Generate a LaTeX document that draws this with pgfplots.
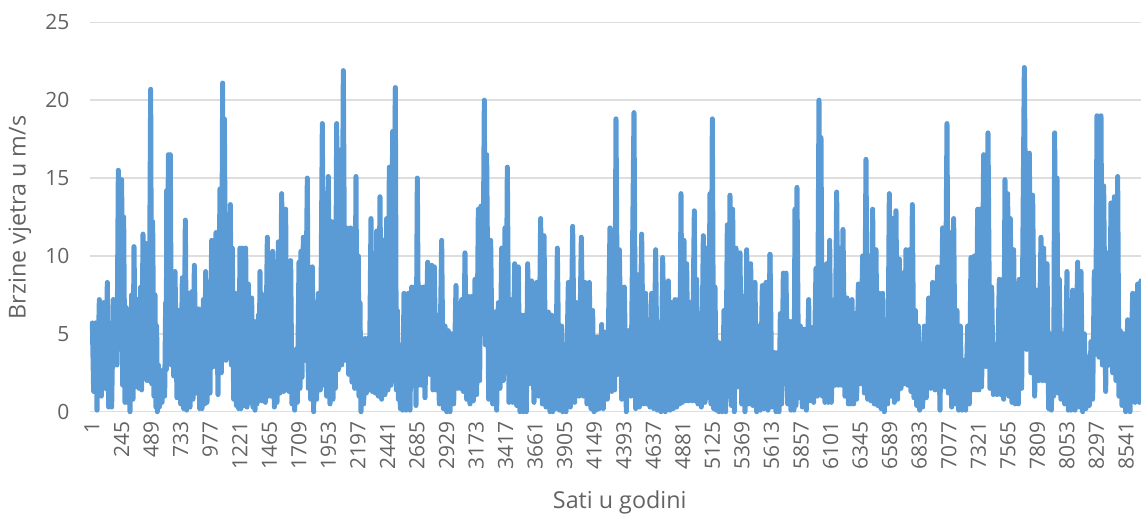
\documentclass[border=0pt]{standalone}
\usepackage{pgfplots}
\usepackage{pgfplotstable}
\pgfplotsset{compat=1.18}
\usepackage{fontspec}
\setmainfont{Open Sans}
\definecolor{wind}{HTML}{5B9BD5}
\definecolor{txt}{HTML}{636363}
\definecolor{gridc}{HTML}{DEDEDE}
\pgfplotstableread[row sep=\\,header=false]{
277 5.7\\281 1.3\\287 5.7\\291 .1\\298 7.2\\304 1\\310 7\\316 1.5\\322 8.3\\326 .3\\330 5.5\\335 .3\\340 7.2\\345 3\\348 7.2\\351 3\\355 15.5\\360 4.5\\365 14.9\\368 1.7\\371 12.5\\375 .6\\378 6.7\\382 .6\\385 6.1\\390 0\\395 7.5\\399 .8\\402 10.6\\407 1.6\\412 7.2\\417 1.5\\422 8\\425 1.4\\429 11.4\\434 3.5\\438 10.8\\441 2\\443 9.5\\447 2\\452 20.7\\455 1.8\\458 12.2\\462 1\\465 7.5\\468 .3\\470 5.5\\472 0\\475 3\\478 .3\\482 2\\486 .6\\490 2.7\\494 1\\497 7\\499 2.7\\500 14.2\\503 3.7\\505 16.5\\508 3.7\\511 16.5\\514 3\\517 8\\521 2.3\\525 9\\531 .9\\537 6.5\\542 .5\\547 8.6\\551 .2\\556 12.3\\560 .1\\565 7.6\\570 .3\\575 7.7\\579 .8\\583 9.4\\589 1.2\\595 6.6\\599 .2\\603 4.8\\606 .2\\610 7.2\\614 .5\\617 9\\621 .6\\625 6.9\\630 1.2\\635 11\\641 2.9\\648 11.5\\654 1.1\\660 14.3\\664 2.5\\668 21.1\\670 4\\673 18.8\\678 3.3\\682 12.4\\687 5\\691 13.3\\694 3\\697 10.5\\701 .8\\706 7.6\\709 .4\\712 7\\716 .2\\720 10.5\\723 .2\\727 10.5\\732 .4\\737 10.5\\741 .3\\745 8.2\\750 .6\\755 7.3\\759 .3\\762 5.8\\765 .1\\768 4.8\\771 .5\\775 6.2\\777 .8\\780 9\\785 .7\\790 7.5\\796 .6\\802 11.2\\805 1\\808 8\\813 1\\818 10.3\\823 .3\\828 8.6\\831 .6\\835 10.9\\840 1.2\\845 14\\851 1.3\\857 13\\860 1.4\\863 9\\867 1.3\\872 9.7\\876 .5\\880 2.8\\884 .1\\888 4\\892 .6\\897 9.6\\900 1.5\\903 10.3\\906 2.2\\910 11.2\\916 3.3\\922 15\\925 1.5\\928 8\\932 .8\\937 9.3\\941 0\\945 7\\950 .8\\955 7.6\\961 1.4\\967 18.5\\971 1.7\\975 14\\980 1\\985 15.1\\990 .5\\995 12.2\\999 .8\\1003 11\\1006 1.5\\1010 18.5\\1015 2.7\\1020 16.8\\1025 3\\1030 21.9\\1035 3.3\\1040 11.8\\1046 2.4\\1052 11.8\\1056 1.9\\1060 11\\1064 1.5\\1068 15.1\\1071 1.8\\1075 10\\1077 1\\1080 7\\1083 0\\1087 4\\1091 .5\\1095 4.7\\1099 1.2\\1103 4.7\\1108 1.4\\1113 12.4\\1117 1.3\\1122 9.5\\1126 1.2\\1130 11.6\\1135 1\\1140 13.8\\1145 .8\\1150 11\\1155 1.1\\1160 12.4\\1164 1.4\\1168 15.7\\1173 1.7\\1178 18\\1182 2\\1186 20.8\\
}\segA
\pgfplotstableread[row sep=\\,header=false]{
46 20.8\\49 1.4\\52 6.5\\55 .8\\58 4.3\\61 .2\\65 2.9\\68 .1\\72 7.6\\78 .1\\85 7.6\\90 .1\\95 8\\100 2\\103 8\\108 .4\\112 15\\116 1.7\\120 8\\125 1.7\\130 8\\135 .9\\143 9.6\\149 2.4\\155 9.4\\159 1.4\\163 9.3\\168 1.4\\172 6.2\\178 .5\\185 11\\190 .2\\195 5.5\\200 0\\205 5.2\\210 0\\215 5\\221 .5\\228 8.1\\233 1.5\\238 6.5\\241 1.5\\245 7.2\\250 1.3\\255 10.2\\260 .8\\265 7.4\\270 .5\\275 7.4\\280 .7\\285 8.5\\290 1.1\\295 13\\299 2\\303 13.2\\308 5\\313 20\\316 4.3\\320 16.5\\326 .8\\332 11\\338 .5\\345 6.4\\350 .1\\355 7\\360 1.5\\365 10.5\\370 2\\375 11.8\\378 2.5\\382 15.7\\387 .6\\392 7.2\\398 .6\\404 9.5\\410 .4\\415 9.3\\420 0\\425 6.2\\430 0\\435 6.2\\439 0\\443 9.5\\449 1.8\\455 8.4\\462 .6\\470 8.3\\476 1\\482 12.4\\487 .5\\492 11.3\\498 .3\\505 6.4\\510 0\\515 6.2\\518 0\\522 6\\527 .2\\532 10.5\\538 .1\\545 5.5\\548 0\\552 4\\558 0\\565 8.3\\571 .3\\578 11.9\\584 .6\\590 7\\597 1\\604 11.2\\610 1\\615 8.3\\621 .5\\628 8.3\\633 .2\\638 6.5\\642 0\\645 4.2\\648 .1\\652 4.8\\658 .2\\665 5.6\\670 .2\\675 5.1\\682 .8\\690 11.8\\695 1.3\\700 10.2\\704 1.4\\708 18.8\\713 2.4\\718 10.4\\725 .8\\733 8\\739 0\\745 5.2\\753 1\\762 19.2\\767 .2\\772 8.8\\778 .3\\785 11.4\\791 .5\\797 7.6\\801 .5\\805 5.9\\810 .3\\815 7.6\\821 .2\\827 10.4\\832 .1\\838 5.7\\843 0\\848 9.9\\856 0\\865 8.4\\870 .1\\875 7\\880 .2\\885 7.2\\890 .3\\895 7.2\\899 .5\\903 14\\907 .6\\912 11\\916 .7\\920 9.5\\925 .7\\930 7\\936 .7\\943 12.9\\946 .7\\950 8.5\\954 .5\\958 5.8\\964 .3\\970 11.3\\975 .6\\980 10.5\\985 .9\\990 14\\993 .5\\997 18.8\\1001 .2\\1005 8\\1009 .1\\1012 4.5\\1017 0\\1022 4.4\\1027 0\\1032 6.5\\1037 0\\1042 12\\1046 1\\1050 13.9\\1054 .4\\1058 13\\1063 0\\1068 10.5\\1074 1.6\\1080 10.2\\1085 .5\\1090 7.4\\1095 0\\1100 10.4\\1106 .5\\1112 9.5\\1118 .4\\1125 8.3\\1130 0\\1135 5.5\\1141 .1\\1147 8.1\\1152 .2\\1158 8.3\\1164 .1\\1170 10.1\\
}\segB
\pgfplotstableread[row sep=\\,header=false]{
87 10.1\\93 .3\\100 3.8\\105 0\\110 3.8\\114 0\\118 6.3\\122 .5\\127 8.9\\131 1.8\\135 8.9\\140 .5\\145 5.8\\150 .1\\155 5.8\\159 .1\\162 13\\165 .4\\168 14.4\\173 .9\\178 5.5\\184 .3\\190 5.3\\196 .1\\203 7.2\\207 .7\\212 5.4\\218 .6\\225 9.2\\229 1\\234 20\\237 2.3\\240 17.6\\244 1\\247 5.6\\252 .6\\257 9.5\\262 .6\\266 11\\271 .6\\277 4.8\\282 1.7\\287 14.1\\292 1.7\\297 10.5\\302 1.7\\306 11.7\\312 1\\318 7.3\\322 .5\\325 5.5\\329 .5\\333 7.2\\338 .5\\342 6.3\\347 .8\\352 8.2\\358 1.8\\365 10\\370 1.2\\375 16.2\\380 .8\\385 10\\390 .7\\395 13\\400 .5\\405 10.4\\410 .4\\415 7.6\\420 .2\\425 7.6\\430 0\\435 5.8\\440 .5\\445 14\\450 1\\455 12.4\\460 .6\\465 12.9\\470 .8\\475 9.8\\480 1.5\\485 8.9\\490 1.8\\495 10.4\\500 1.7\\505 10.4\\510 1.3\\514 13.3\\519 .9\\523 6.5\\527 .4\\532 5.5\\536 .1\\540 4.2\\545 .3\\550 5.5\\556 .9\\563 7.3\\569 1.5\\575 8.3\\582 1.4\\590 9.3\\597 .1\\605 11.8\\612 1.6\\618 18.5\\622 1.2\\627 11.5\\632 .3\\638 12.4\\643 .5\\648 6.5\\653 .1\\658 5.5\\663 .1\\668 3.3\\674 .1\\680 5.5\\685 .5\\690 9.9\\695 1.4\\700 10\\705 1.4\\710 13\\714 1.4\\717 13\\722 1.6\\728 16.5\\735 2.9\\741 17.9\\747 1.5\\752 8\\757 1.1\\762 4.3\\768 1.1\\775 8.5\\780 1.1\\785 8.5\\788 .8\\792 14.9\\796 1.5\\800 14\\804 1\\808 12.4\\813 .6\\818 10.4\\823 .5\\828 5.5\\832 .5\\835 8.5\\842 1.5\\850 22.1\\857 4\\865 16.6\\870 2.5\\875 13.9\\881 1\\887 7.8\\893 2\\900 11.2\\904 2\\908 10.5\\913 2\\918 9.5\\923 .2\\928 5\\931 .1\\935 3.5\\938 1\\941 17.9\\945 1.5\\948 15\\951 1.2\\955 8.5\\960 .8\\965 5\\971 .5\\978 9\\982 .1\\985 7\\990 .1\\995 7.8\\1002 .1\\1010 9.6\\1015 .3\\1020 9\\1025 0\\1030 5\\1035 .2\\1040 3.5\\1045 .4\\1050 4.5\\1055 .8\\1060 9\\1064 3.7\\1068 19\\1074 3.5\\1080 19\\1084 3\\1088 14.5\\1094 1.3\\1100 10.2\\1105 3\\1110 13.4\\1115 2.5\\1120 13.8\\1125 2\\1130 15.1\\1134 1\\1138 5.2\\1143 .4\\1148 5\\1154 0\\1160 5.9\\1167 0\\1175 7.6\\1182 .6\\1190 8.2\\1195 .6\\1200 8.4\\
}\segC
\begin{document}
\begin{tikzpicture}
\path[use as bounding box] (-90pt,-103.3pt) rectangle (1051pt,411.7pt);
\begin{axis}[
  scale only axis, width=1051pt, height=389.4pt,
  xmin=-15.5, xmax=8665, ymin=0, ymax=25,
  clip=false,
  axis line style={draw=none},
  major tick length=0pt,
  ymajorgrids, grid style={gridc,line width=1.4pt},
  xtick={1,245,489,733,977,1221,1465,1709,1953,2197,2441,2685,2929,3173,3417,3661,3905,4149,4393,4637,4881,5125,5369,5613,5857,6101,6345,6589,6833,7077,7321,7565,7809,8053,8297,8541},
  ytick={0,5,10,15,20,25},
  /pgf/number format/assume math mode=true,
  /pgf/number format/set thousands separator={},
  tick label style={font=\fontsize{21}{25}\selectfont,text=txt},
  xticklabel style={rotate=90,anchor=east,xshift=-6pt},
  yticklabel style={anchor=east,xshift=-17pt},
  xlabel={Sati u godini},
  ylabel={Brzine vjetra u m/s},
  label style={font=\fontsize{23.3}{27}\selectfont,text=txt},
  x label style={at={(axis description cs:0.504,0)},anchor=center,yshift=-90.3pt},
  y label style={at={(axis description cs:0,0.4987)},anchor=center,yshift=70pt},
]
\addplot[wind,line width=5pt,line join=round,line cap=round,no marks] table[x expr={2.753*(\thisrowno{0}-276)+1},y index=1] {\segA};
\addplot[wind,line width=5pt,line join=round,line cap=round,no marks] table[x expr={2.753*(\thisrowno{0}+864)+1},y index=1] {\segB};
\addplot[wind,line width=5pt,line join=round,line cap=round,no marks] table[x expr={2.753*(\thisrowno{0}+1947)+1},y index=1] {\segC};
\end{axis}
\end{tikzpicture}
\end{document}
